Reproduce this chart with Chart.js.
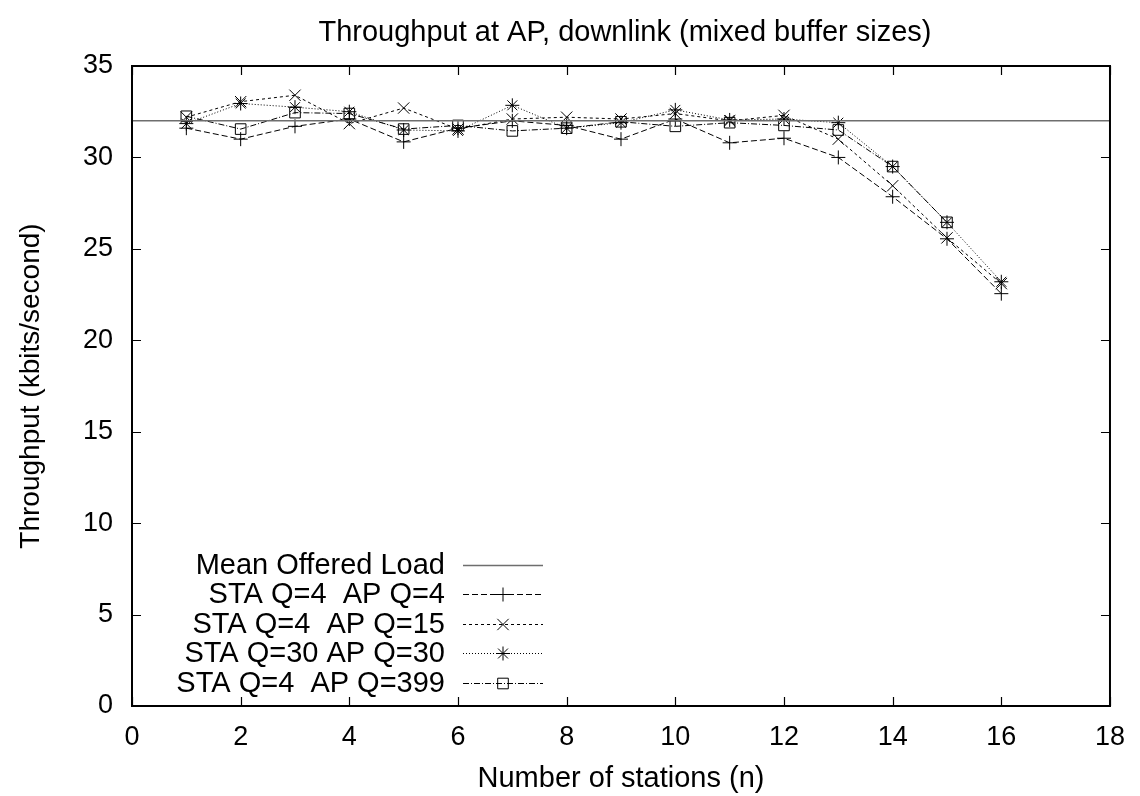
<!DOCTYPE html>
<html>
<head>
<meta charset="utf-8">
<title>Throughput at AP, downlink (mixed buffer sizes)</title>
<script src="https://cdn.jsdelivr.net/npm/chart.js@4/dist/chart.umd.min.js"></script>
<style>
  html, body { margin: 0; padding: 0; background: #fff; }
  #wrap { width: 1140px; height: 796px; }
</style>
</head>
<body>
<div id="wrap"><canvas id="chart" width="1140" height="796"></canvas></div>
<script>
// data
const stations = [1, 2, 3, 4, 5, 6, 7, 8, 9, 10, 11, 12, 13, 14, 15, 16];
const meanLoad = 32;
const staQ4apQ4 = [31.6, 31.0, 31.7, 32.1, 30.85, 31.6, 32.0, 31.75, 31.0, 32.1, 30.8, 31.05, 30.0, 27.85, 25.55, 22.55];
const staQ4apQ15 = [32.2, 33.05, 33.4, 31.85, 32.7, 31.55, 32.1, 32.2, 32.1, 32.4, 32.0, 32.3, 31.0, 28.45, 25.6, 23.1];
const staQ30apQ30 = [31.85, 32.95, 32.75, 32.5, 31.5, 31.45, 32.85, 31.6, 31.9, 32.6, 32.05, 32.1, 31.9, 29.5, 26.45, 23.2];
const staQ4apQ399 = [32.25, 31.55, 32.45, 32.4, 31.55, 31.75, 31.45, 31.6, 31.95, 31.7, 31.9, 31.75, 31.5, 29.5, 26.45, null];
const xTicks = [0, 2, 4, 6, 8, 10, 12, 14, 16, 18];
const yTicks = [0, 5, 10, 15, 20, 25, 30, 35];

const FONT = "'Liberation Sans', Arial, Helvetica, sans-serif";

function toPoints(values) {
    return stations.map((n, i) => ({ x: n, y: values[i] }));
}

function series(label, values, dash, style, radius) {
    return {
        label: label,
        data: toPoints(values),
        borderColor: '#000',
        borderWidth: 1,
        borderDash: dash,
        pointStyle: style,
        pointRadius: radius,
        pointBorderColor: '#000',
        pointBackgroundColor: 'rgba(0,0,0,0)',
        pointBorderWidth: 1,
        fill: false,
        tension: 0,
        spanGaps: false
    };
}

// gnuplot look: frame, inward mirrored ticks, title and key drawn over the chart
const gnuplotFrame = {
    id: 'gnuplotFrame',
    afterDraw(chart) {
        const ctx = chart.ctx;
        const area = chart.chartArea;
        const xs = chart.scales.x;
        const ys = chart.scales.y;
        const tick = 9;

        ctx.save();
        ctx.strokeStyle = '#000';
        ctx.lineWidth = 2;
        ctx.setLineDash([]);
        ctx.strokeRect(area.left, area.top, area.right - area.left, area.bottom - area.top);

        ctx.lineWidth = 1.2;
        ctx.beginPath();
        xTicks.forEach(v => {
            const px = Math.round(xs.getPixelForValue(v)) + 0.5;
            ctx.moveTo(px, area.bottom); ctx.lineTo(px, area.bottom - tick);
            ctx.moveTo(px, area.top); ctx.lineTo(px, area.top + tick);
        });
        yTicks.forEach(v => {
            const py = Math.round(ys.getPixelForValue(v)) + 0.5;
            ctx.moveTo(area.left, py); ctx.lineTo(area.left + tick, py);
            ctx.moveTo(area.right, py); ctx.lineTo(area.right - tick, py);
        });
        ctx.stroke();

        // title
        ctx.fillStyle = '#000';
        ctx.font = '29px ' + FONT;
        ctx.textAlign = 'center';
        ctx.textBaseline = 'middle';
        ctx.fillText('Throughput at AP, downlink (mixed buffer sizes)', (area.left + area.right) / 2 + 4, 33);

        // key
        const textRight = 445;
        const lineStart = 463;
        const lineEnd = 543;
        const rowTop = 565;
        const rowStep = 29.4;
        chart.data.datasets.forEach((ds, i) => {
            const y = rowTop + i * rowStep;
            ctx.fillStyle = '#000';
            ctx.textAlign = 'right';
            ctx.fillText(ds.label, textRight, y + 1);

            ctx.strokeStyle = ds.borderColor;
            ctx.lineWidth = ds.borderWidth;
            ctx.setLineDash(ds.borderDash || []);
            ctx.beginPath();
            ctx.moveTo(lineStart, Math.round(y) + 0.5);
            ctx.lineTo(lineEnd, Math.round(y) + 0.5);
            ctx.stroke();
            ctx.setLineDash([]);

            if (ds.pointRadius > 0) {
                ctx.strokeStyle = '#000';
                ctx.fillStyle = 'rgba(0,0,0,0)';
                ctx.lineWidth = 1;
                Chart.helpers.drawPoint(ctx, {
                    pointStyle: ds.pointStyle,
                    radius: ds.pointRadius,
                    rotation: 0,
                    borderWidth: 1
                }, (lineStart + lineEnd) / 2, Math.round(y) + 0.5);
            }
        });
        ctx.restore();
    }
};

const ctx = document.getElementById('chart').getContext('2d');
const chart = new Chart(ctx, {
    type: 'line',
    data: {
        datasets: [
            {
                label: 'Mean Offered Load',
                data: [{ x: xTicks[0], y: meanLoad }, { x: xTicks[xTicks.length - 1], y: meanLoad }],
                borderColor: '#6e6e6e',
                borderWidth: 1.5,
                borderDash: [],
                pointRadius: 0,
                fill: false
            },
            series('STA Q=4  AP Q=4', staQ4apQ4, [6, 3], 'cross', 7),
            series('STA Q=4  AP Q=15', staQ4apQ15, [3, 3], 'crossRot', 8),
            series('STA Q=30 AP Q=30', staQ30apQ30, [1, 2], 'star', 7),
            series('STA Q=4  AP Q=399', staQ4apQ399, [6, 2, 1, 2], 'rect', 7.5)
        ]
    },
    options: {
        responsive: false,
        animation: false,
        events: [],
        layout: { padding: { top: 66, right: 23, left: 0, bottom: 0 } },
        plugins: {
            legend: { display: false },
            title: { display: false },
            tooltip: { enabled: false }
        },
        scales: {
            x: {
                type: 'linear',
                min: 0,
                max: 18,
                afterFit: (scale) => { scale.height = 90; },
                afterBuildTicks: (scale) => { scale.ticks = xTicks.map(v => ({ value: v })); },
                grid: { display: false, drawTicks: false },
                border: { display: false },
                ticks: {
                    padding: 15,
                    color: '#000',
                    font: { family: FONT, size: 27 },
                    maxRotation: 0
                },
                title: {
                    display: true,
                    text: 'Number of stations (n)',
                    color: '#000',
                    font: { family: FONT, size: 29 },
                    padding: { top: 0, bottom: 0 }
                }
            },
            y: {
                type: 'linear',
                min: 0,
                max: 35,
                afterFit: (scale) => { scale.width = 132; },
                afterBuildTicks: (scale) => { scale.ticks = yTicks.map(v => ({ value: v })); },
                grid: { display: false, drawTicks: false },
                border: { display: false },
                ticks: {
                    padding: 19,
                    color: '#000',
                    font: { family: FONT, size: 27 }
                },
                title: {
                    display: true,
                    text: 'Throughput (kbits/second)',
                    color: '#000',
                    font: { family: FONT, size: 28 },
                    padding: { top: 14, bottom: 0 }
                }
            }
        }
    },
    plugins: [gnuplotFrame]
});
</script>
</body>
</html>
